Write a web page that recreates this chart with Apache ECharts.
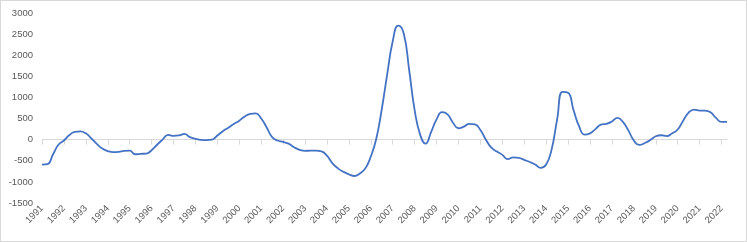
<!DOCTYPE html>
<html>
<head>
<meta charset="utf-8">
<script src="https://cdn.jsdelivr.net/npm/echarts@6/dist/echarts.min.js"></script>
<style>
  html, body { margin: 0; padding: 0; background: #fff; }
  #chart { width: 747px; height: 242px; box-sizing: border-box; border: 1px solid #d9d9d9; }
</style>
</head>
<body>
<div id="chart"></div>
<script>
// quarterly values, 1991Q1 .. 2022Q2
var years = [];
for (var y = 1991; y <= 2022; y++) years.push(String(y));
var quarters = [];
years.forEach(function (yr) {
    ['Q1', 'Q2', 'Q3', 'Q4'].forEach(function (q) { quarters.push(yr + q); });
});
quarters = quarters.slice(0, 126);

var values = [
    -590, -580, -350, -120,   // 1991
    -20, 110, 185, 195,       // 1992
    150, 30, -100, -210,      // 1993
    -270, -295, -290, -265,   // 1994
    -260, -345, -335, -330,   // 1995
    -250, -120, 0, 115,       // 1996
    90, 100, 135, 60,         // 1997
    20, -5, -10, 0,           // 1998
    100, 200, 285, 370,       // 1999
    450, 550, 610, 625,       // 2000
    500, 290, 60, -20,        // 2001
    -55, -95, -180, -240,     // 2002
    -265, -260, -260, -275,   // 2003
    -380, -560, -680, -760,   // 2004
    -820, -860, -800, -680,   // 2005
    -400, 20, 720, 1550,      // 2006
    2330, 2700, 2520, 1650,   // 2007
    700, 120, -95, 180,       // 2008
    480, 650, 600, 400,       // 2009
    270, 310, 375, 360,       // 2010
    230, 0, -190, -280,       // 2011
    -360, -460, -420, -430,   // 2012
    -480, -530, -590, -670,   // 2013
    -590, -230, 480, 1130,    // 2014
    1110, 700, 320, 120,      // 2015
    150, 250, 355, 375,       // 2016
    430, 515, 420, 220,       // 2017
    -20, -125, -80, -10,      // 2018
    80, 105, 85, 150,         // 2019
    240, 450, 640, 710,       // 2020
    690, 690, 650, 515,       // 2021
    420, 420                  // 2022
];

var myChart = echarts.init(document.getElementById('chart'));
var labelFont = { color: '#595959', fontSize: 9.5, fontFamily: 'Liberation Sans' };
var isYearStart = function (index) { return index % 4 === 0; };

var option = {
    animation: false,
    grid: { left: 41, right: 19, top: 12, bottom: 38 },
    xAxis: [
        {
            type: 'category',
            data: quarters,
            boundaryGap: false,
            position: 'bottom',
            axisLine: { show: false, onZero: false },
            axisTick: { show: false },
            axisLabel: Object.assign({
                interval: isYearStart,
                rotate: 45,
                margin: 4,
                formatter: function (v) { return v.slice(0, 4); }
            }, labelFont),
            splitLine: { show: false }
        },
        {
            type: 'category',
            data: quarters,
            boundaryGap: false,
            position: 'bottom',
            axisLine: { show: true, onZero: true, lineStyle: { color: '#d9d9d9', width: 1 } },
            axisTick: { show: true, interval: isYearStart, length: 5, lineStyle: { color: '#d9d9d9' } },
            axisLabel: { show: false },
            splitLine: { show: false }
        }
    ],
    yAxis: {
        type: 'value',
        min: -1500,
        max: 3000,
        interval: 500,
        axisLine: { show: false },
        axisTick: { show: false },
        splitLine: { show: false },
        axisLabel: Object.assign({
            margin: 9,
            formatter: function (v) { return String(v); }
        }, labelFont)
    },
    series: [
        {
            type: 'line',
            xAxisIndex: 0,
            data: values,
            smooth: 0.5,
            showSymbol: false,
            lineStyle: { color: '#4472C4', width: 1.8 }
        }
    ]
};
myChart.setOption(option);
</script>
</body>
</html>
